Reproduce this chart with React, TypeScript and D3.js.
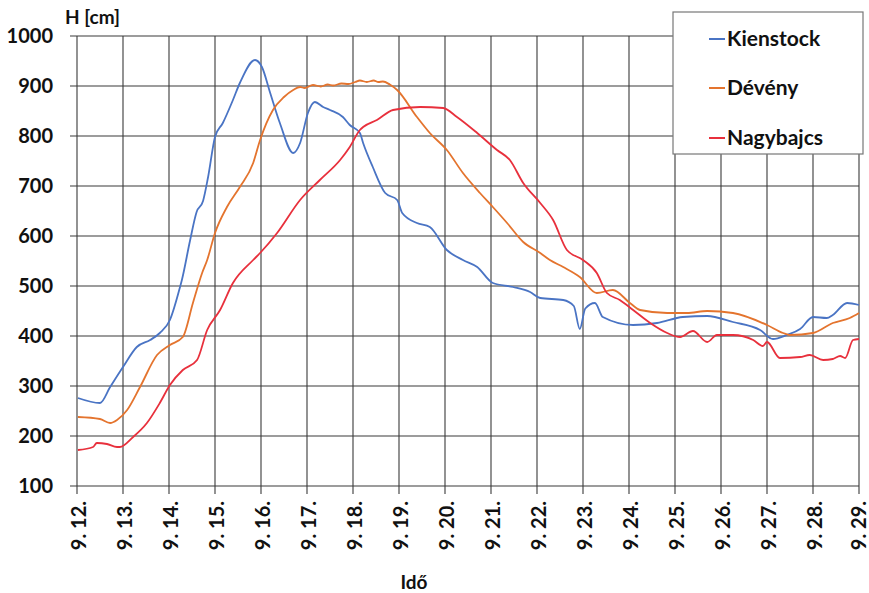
import React from "react";
import * as d3 from "d3";

const dayTicks = [12, 13, 14, 15, 16, 17, 18, 19, 20, 21, 22, 23, 24, 25, 26, 27, 28, 29];
const yTicks = [100, 200, 300, 400, 500, 600, 700, 800, 900, 1000];

const kienstockT = [12.02, 12.5, 12.72, 13.0, 13.3, 13.59, 13.8, 14.02, 14.24, 14.28, 14.46, 14.6, 14.74, 14.85, 15.0, 15.17, 15.39, 15.54, 15.87, 16.02, 16.2, 16.41, 16.7, 16.85, 17.02, 17.17, 17.35, 17.5, 17.78, 17.93, 18.15, 18.22, 18.43, 18.7, 18.96, 19.07, 19.39, 19.67, 20.04, 20.39, 20.7, 21.04, 21.48, 21.85, 22.07, 22.57, 22.8, 22.93, 23.05, 23.26, 23.43, 24.09, 24.61, 25.17, 25.7, 26.26, 26.85, 27.13, 27.43, 27.72, 28.0, 28.3, 28.43, 28.74, 29.0];
const kienstockH = [276, 266, 298, 338, 378, 392, 406, 432, 498, 512, 592, 648, 670, 718, 798, 826, 872, 906, 952, 938, 886, 826, 766, 786, 846, 868, 858, 852, 838, 822, 806, 786, 738, 686, 672, 646, 626, 618, 572, 552, 538, 506, 498, 488, 476, 472, 460, 414, 455, 466, 438, 422, 426, 438, 440, 428, 412, 394, 402, 414, 438, 436, 442, 466, 462];

const devenyT = [12.02, 12.5, 12.72, 12.87, 13.09, 13.37, 13.74, 14.02, 14.3, 14.52, 14.72, 14.83, 15.0, 15.26, 15.54, 15.83, 15.98, 16.26, 16.5, 16.7, 16.85, 16.95, 17.13, 17.3, 17.45, 17.57, 17.75, 17.9, 18.05, 18.15, 18.3, 18.45, 18.55, 18.65, 18.8, 18.96, 19.39, 19.67, 20.04, 20.39, 20.76, 21.04, 21.35, 21.7, 22.07, 22.28, 22.57, 22.93, 23.3, 23.65, 24.02, 24.24, 24.83, 25.26, 25.7, 26.26, 27.0, 27.35, 27.5, 28.0, 28.43, 28.8, 29.0];
const devenyH = [238, 234, 226, 232, 252, 298, 362, 382, 398, 466, 526, 552, 606, 658, 698, 746, 792, 852, 878, 892, 898, 896, 902, 899, 903, 901, 905, 904, 908, 911, 908, 911, 908, 909, 903, 892, 838, 806, 772, 726, 686, 658, 626, 588, 566, 552, 538, 518, 486, 492, 466, 452, 446, 446, 450, 446, 422, 406, 402, 406, 426, 436, 446];

const nagybajcsT = [12.02, 12.35, 12.43, 12.65, 12.87, 12.93, 13.22, 13.52, 13.8, 14.02, 14.3, 14.61, 14.83, 15.11, 15.39, 15.83, 15.98, 16.35, 16.85, 17.28, 17.72, 17.93, 18.15, 18.22, 18.52, 18.87, 19.46, 19.96, 20.26, 20.7, 21.13, 21.41, 21.7, 22.07, 22.35, 22.65, 23.0, 23.3, 23.52, 23.8, 24.09, 24.46, 24.83, 25.11, 25.39, 25.7, 25.91, 26.26, 26.7, 26.91, 27.0, 27.28, 27.72, 27.93, 28.22, 28.43, 28.59, 28.7, 28.87, 29.0];
const nagybajcsH = [172, 178, 186, 184, 178, 178, 198, 226, 266, 302, 332, 352, 412, 452, 506, 552, 566, 606, 672, 712, 752, 778, 812, 818, 832, 852, 858, 856, 838, 806, 772, 752, 706, 666, 632, 572, 552, 526, 486, 472, 452, 426, 406, 398, 410, 388, 402, 402, 392, 380, 388, 356, 358, 362, 352, 354, 360, 356, 392, 394];

const seriesNames = ["Kienstock", "Dévény", "Nagybajcs"];
const seriesColors = ["#4a74c4", "#e4742e", "#e8303c"];

const W = 869;
const H = 593;
const FONT = "Lato, 'Open Sans', sans-serif";

export default function App() {
  const x = d3.scaleLinear().domain([12, 29]).range([77, 859]);
  const y = d3.scaleLinear().domain([100, 1000]).range([486, 36]);

  const seriesData = [
    [kienstockT, kienstockH],
    [devenyT, devenyH],
    [nagybajcsT, nagybajcsH],
  ].map(([t, h]) => t.map((d, i) => [d, h[i]] as [number, number]));

  const line = d3
    .line<[number, number]>()
    .x((d) => x(d[0]))
    .y((d) => y(d[1]))
    .curve(d3.curveMonotoneX);

  const gridColor = "#3a3a3a";
  const legendY = [40, 89, 139];

  return (
    <svg
      width={W}
      height={H}
      style={{ position: "absolute", left: 0, top: 0, background: "#ffffff" }}
      fontFamily={FONT}
    >
      <rect x={0} y={0} width={W} height={H} fill="#ffffff" />
      {yTicks.map((v) => (
        <line key={"h" + v} x1={70} x2={x(29)} y1={y(v)} y2={y(v)} stroke={gridColor} strokeWidth={1.1} />
      ))}
      {dayTicks.map((d) => (
        <line key={"v" + d} x1={x(d)} x2={x(d)} y1={y(1000)} y2={y(100) + 8} stroke={gridColor} strokeWidth={1.1} />
      ))}
      {yTicks.map((v) => (
        <text key={"yl" + v} x={53} y={y(v) + 7} textAnchor="end" fontSize={20} fontWeight={700} fill="#111">
          {v}
        </text>
      ))}
      <text x={65} y={24} fontSize={19} fontWeight={700} fill="#111">
        H [cm]
      </text>
      {dayTicks.map((d) => (
        <text
          key={"xl" + d}
          transform={`translate(${Math.min(x(d) + 9, 866)},${501}) rotate(-90)`}
          textAnchor="end"
          fontSize={20}
          fontWeight={700}
          fill="#111"
        >
          {`9. ${d}.`}
        </text>
      ))}
      <text x={414} y={589} textAnchor="middle" fontSize={19} fontWeight={700} fill="#111">
        Idő
      </text>
      {seriesData.map((s, i) => (
        <path key={"s" + i} d={line(s) || ""} fill="none" stroke={seriesColors[i]} strokeWidth={1.8} strokeLinejoin="round" />
      ))}
      <rect x={673} y={12} width={190} height={142} fill="#ffffff" stroke="#777" strokeWidth={1.2} />
      {seriesNames.map((n, i) => (
        <g key={"lg" + i}>
          <line x1={709} x2={725} y1={legendY[i] - 1} y2={legendY[i] - 1} stroke={seriesColors[i]} strokeWidth={2} />
          <text x={727} y={legendY[i] + 6} fontSize={21} fontWeight={700} fill="#111">
            {n}
          </text>
        </g>
      ))}
    </svg>
  );
}
